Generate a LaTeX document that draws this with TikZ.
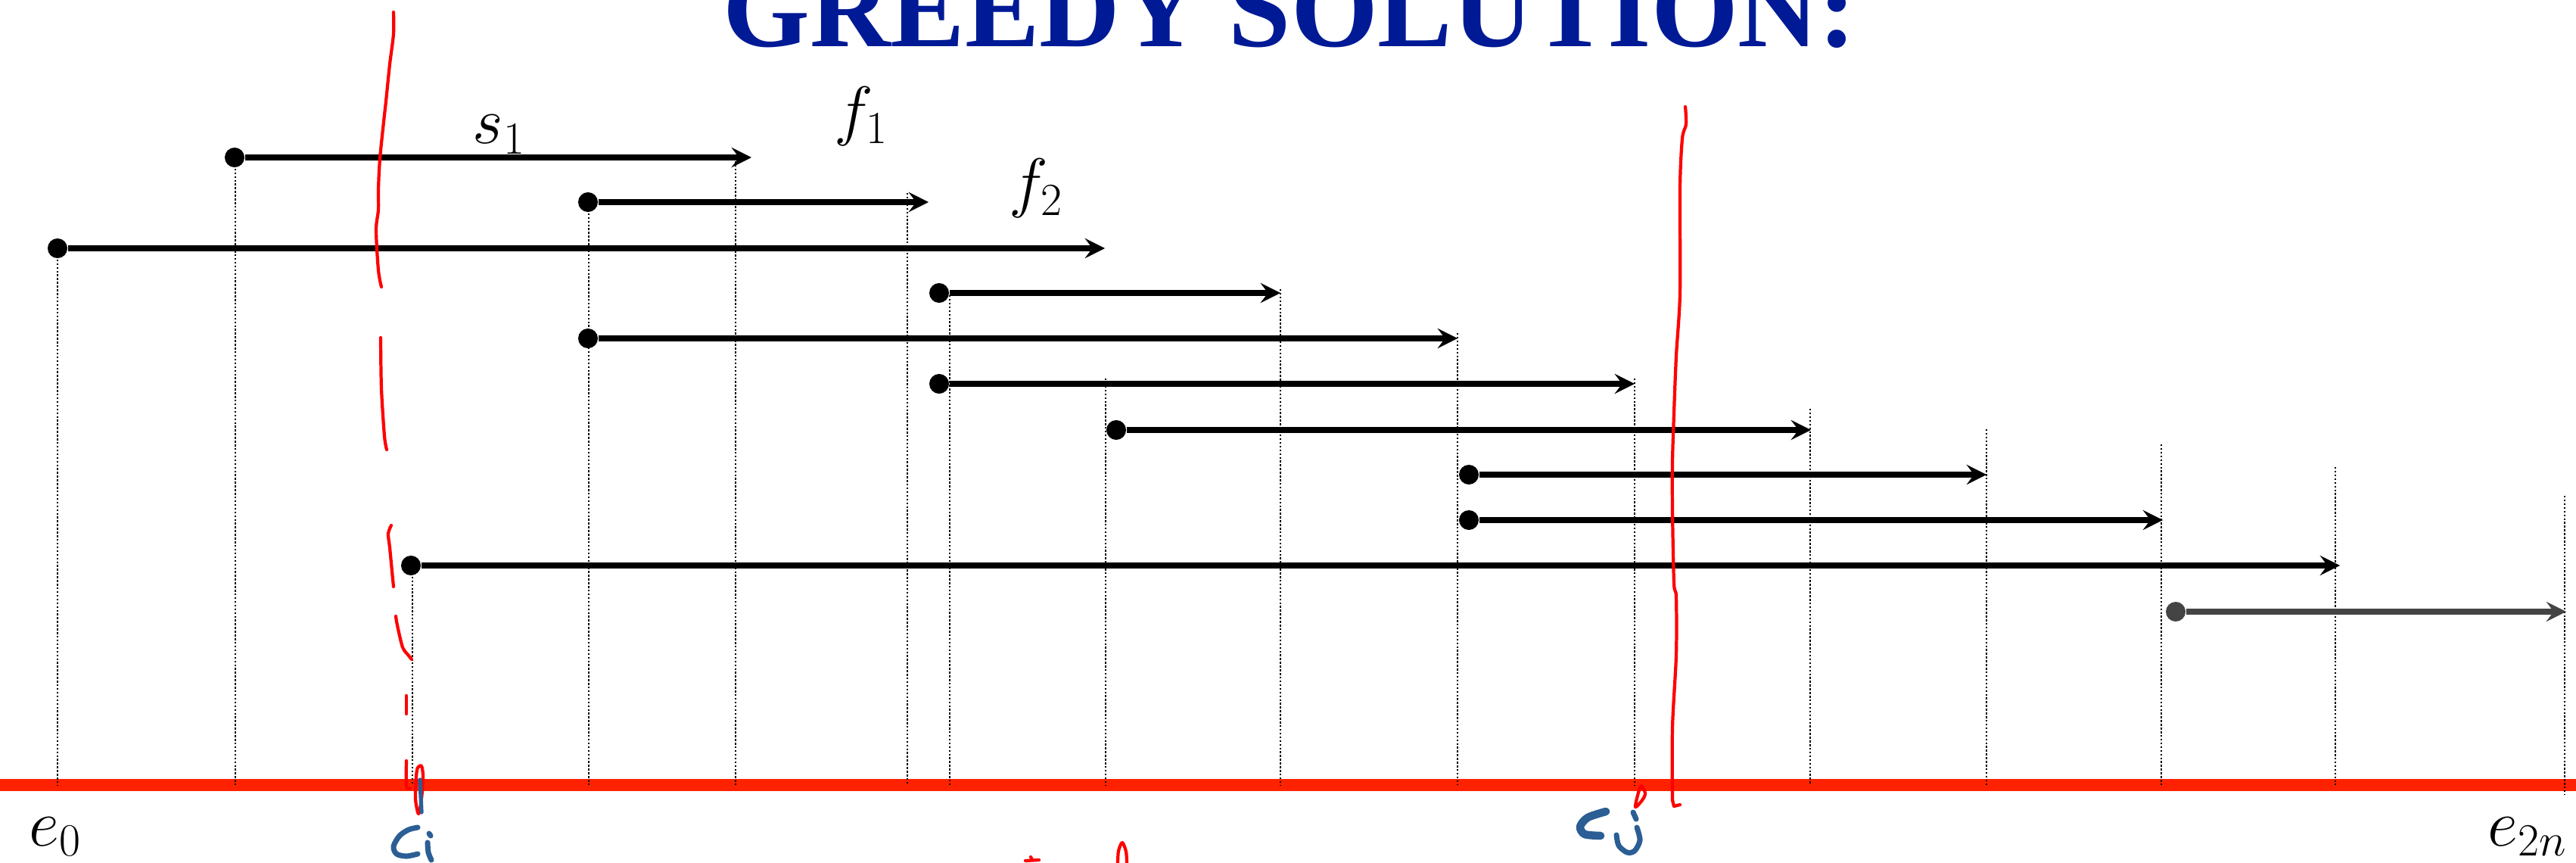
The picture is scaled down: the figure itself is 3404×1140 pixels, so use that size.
\documentclass[tikz,border=0pt]{standalone}
\usepackage{fontspec}
\newfontfamily\titlefont{Liberation Serif}
\usepackage{xcolor}
\definecolor{titleblue}{HTML}{001A96}
\definecolor{axisred}{HTML}{FF2200}
\definecolor{inkred}{HTML}{FF0000}
\definecolor{inkblue}{HTML}{2B5E94}
\definecolor{lastgray}{HTML}{444444}
\usetikzlibrary{arrows.meta}

\begin{document}
\begin{tikzpicture}[x=0.01cm, y=-0.01cm,
  dot/.style={circle, fill=black, inner sep=0pt, minimum size=7.4pt},
  iv/.style={-{Stealth[length=7.5pt, width=7.5pt, inset=2.8pt]}, line width=2.4pt},
  guide/.style={line width=0.8pt, dash pattern=on 0.7pt off 0.7pt},
  ink/.style={inkred, line width=1.2pt, line cap=round, line join=round},
  chalk/.style={inkblue, line width=2pt, line cap=round, line join=round},
  lab/.style={font=\fontsize{26}{30}\selectfont, inner sep=0pt}]

  \useasboundingbox (0,0) rectangle (3404,1140);
  \clip (0,0) rectangle (3404,1140);

  \node[font=\titlefont\bfseries\fontsize{42}{50}\selectfont, text=titleblue,
    anchor=base, inner sep=0pt] (title) at (1704,62) {GREEDY SOLUTION:};

  % the line of endpoints
  \coordinate (axL) at (0,1037);
  \coordinate (axR) at (3404,1037);
  \draw[axisred, line width=4.8pt] (axL) -- (axR);

  % dotted drops to the line
  \foreach \x/\y in {76/328, 311/208, 545/747, 778/267, 972/213, 1199/255,
      1255/390, 1461/500, 1692/382, 1926/440, 2160/500, 2392/540, 2625/567,
      2856/587, 3086/617}
    \draw[guide] (\x,\y) -- (\x,1037);
  \draw[guide] (3389,655) -- (3389,1050);

  % intervals, start dot to finish arrow
  \foreach \n/\y/\s/\f in {1/208/310/993, 2/267/777/1227, 3/328/76/1460,
      4/387/1241/1692, 5/447/777/1926, 6/507/1241/2160, 7/568/1475/2393,
      8/627/1941/2625, 9/687/1941/2858, 10/747/543/3092} {
    \node[dot] (s\n) at (\s,\y) {};
    \coordinate (f\n) at (\f,\y);
    \draw[iv] (s\n) -- (f\n);
  }
  \node[dot, fill=lastgray] (s11) at (2875,808) {};
  \coordinate (f11) at (3391,808);
  \draw[iv, lastgray] (s11) -- (f11);

  \node[lab, anchor=base west] (ls1) at (624,190) {$s_1$};
  \node[lab, anchor=base west] (lf1) at (1102,176) {$f_1$};
  \node[lab, anchor=base west] (lf2) at (1333,271) {$f_2$};
  \node[lab, anchor=base west] (le0) at (38,1117) {$e_0$};
  \node[lab, anchor=base east] (le2n) at (3393,1117) {$e_{2n}$};

  % handwritten cut at e_i
  \draw[ink] plot[smooth] coordinates {(520,16) (520,45) (515,85) (510,134)
    (507,161) (502,210) (500,250) (500,277) (497,304) (500,357) (504,379)};
  \draw[ink] plot[smooth] coordinates {(503,446) (504,513) (508,576) (511,594)};
  \draw[ink] plot[smooth] coordinates {(517,694) (513,705) (515,723) (517,744)
    (520,775)};
  \draw[ink] plot[smooth] coordinates {(523,814) (525,826) (532,855) (540,866)
    (544,871)};
  \draw[ink] (537,919) -- (537,943);
  \draw[ink] plot[smooth] coordinates {(537,1005) (537,1039) (542,1041)};
  \draw[ink] plot[smooth cycle] coordinates {(552,1014) (557,1012) (559,1026)
    (557,1055) (553,1075) (549,1055) (550,1026)};
  \draw[chalk, line width=1.5pt] (555,1030) -- (557,1073);

  % handwritten cut near e_j
  \draw[ink] plot[smooth] coordinates {(2227,141) (2228,164) (2223,183)
    (2220,247) (2220,387) (2215,470) (2212,546) (2210,610) (2210,674)
    (2212,770) (2215,789) (2215,865) (2210,961) (2210,1057)};
  \draw[ink] (2210,1057) -- (2212,1065) -- (2220,1063);
  \draw[ink] plot[smooth cycle] coordinates {(2161,1066) (2165,1047)
    (2169,1038) (2174,1048) (2170,1057)};

  % scribbled names under the line
  \draw[chalk] plot[smooth] coordinates {(552,1093) (540,1096) (528,1104)
    (520,1118) (524,1128) (537,1131) (552,1128)};
  \draw[chalk] (567,1101) -- (569,1104);
  \draw[chalk] plot[smooth] coordinates {(565,1113) (566,1126) (570,1136)};
  \draw[chalk, line width=3pt] plot[smooth] coordinates {(2122,1072) (2098,1080)
    (2088,1092) (2094,1102) (2115,1104)};
  \draw[chalk] (2158,1073) -- (2162,1082);
  \draw[chalk] plot[smooth] coordinates {(2163,1093) (2167,1110) (2160,1124)
    (2150,1126) (2139,1117) (2136,1103)};

  % marks cut off at the bottom
  \draw[ink] (1355,1137) -- (1373,1136);
  \draw[ink] (1362,1132) -- (1364,1136);
  \draw[ink] plot[smooth] coordinates {(1477,1140) (1478,1124) (1483,1113)
    (1488,1125) (1489,1140)};
\end{tikzpicture}
\end{document}
